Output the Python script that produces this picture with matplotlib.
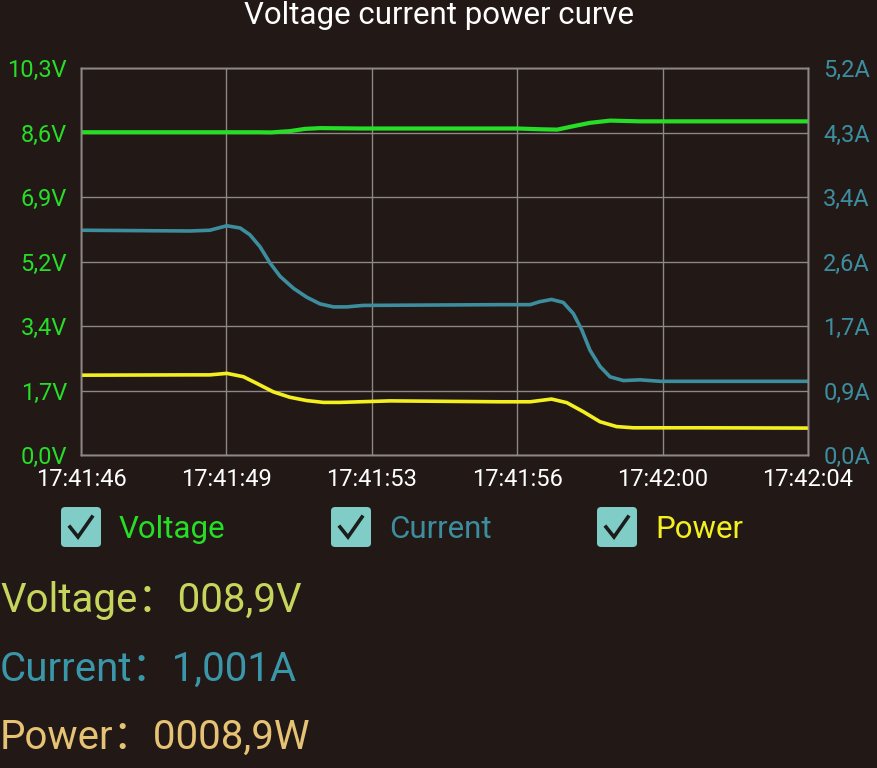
import matplotlib.pyplot as plt
from matplotlib.patches import FancyBboxPatch
from matplotlib.lines import Line2D

# seconds since 17:41:46
volt_t = [0, 2.0, 4.4, 4.7, 5.17, 5.55, 5.92, 6.9, 9.0, 10.8, 11.36, 11.79,
          12.23, 12.6, 13.1, 13.84, 16.0, 18]
volt_v = [8.59, 8.59, 8.59, 8.585, 8.62, 8.68, 8.70, 8.69, 8.69, 8.69, 8.67, 8.66,
          8.76, 8.84, 8.90, 8.88, 8.88, 8.88]

curr_t = [0, 2.70, 3.19, 3.61, 3.94, 4.18, 4.43, 4.68, 4.93, 5.26, 5.59, 5.92, 6.25,
          6.58, 6.99, 10.37, 11.12, 11.36, 11.65, 11.94, 12.19, 12.40, 12.60, 12.85,
          13.10, 13.43, 13.84, 14.34, 15.33, 18]
curr_a = [3.02, 3.01, 3.02, 3.08, 3.05, 2.96, 2.80, 2.58, 2.40, 2.24, 2.12, 2.03, 1.99,
          1.99, 2.01, 2.02, 2.02, 2.06, 2.09, 2.05, 1.90, 1.68, 1.41, 1.19,
          1.05, 1.00, 1.01, 0.99, 0.99, 0.99]

pow_t = [0, 2.70, 3.19, 3.61, 4.02, 4.35, 4.76, 5.17, 5.59, 6.00, 6.41, 7.65, 10.37,
         11.12, 11.65, 12.03, 12.44, 12.85, 13.26, 13.67, 15.33, 18]
pow_w = [26.4, 26.5, 26.5, 27.0, 25.9, 23.7, 20.9, 19.1, 18.0, 17.4, 17.4, 17.9, 17.6,
         17.6, 18.5, 17.3, 14.3, 11.0, 9.4, 9.0, 9.0, 8.9]

x_ticks = [0, 3.6, 7.2, 10.8, 14.4, 18]
x_labels = ['17:41:46', '17:41:49', '17:41:53', '17:41:56', '17:42:00', '17:42:04']
v_labels = ['0,0V', '1,7V', '3,4V', '5,2V', '6,9V', '8,6V', '10,3V']
a_labels = ['0,0A', '0,9A', '1,7A', '2,6A', '3,4A', '4,3A', '5,2A']
v_max = 10.3
a_max = 5.2
p_max = 128

bg = '#221816'
green = '#27de27'
teal = '#3c8e9f'
yellow = '#f4f01f'
grid_c = '#8c8886'
fonts = ['Roboto', 'Noto Sans CJK SC', 'DejaVu Sans']

plt.rcParams['font.family'] = fonts

fig = plt.figure(figsize=(8.77, 7.68), dpi=100, facecolor=bg)
ax = fig.add_axes([81/877, 1-455/768, 727/877, 387/768])
ax.set_facecolor(bg)
ax_a = ax.twinx()
ax_p = ax.twinx()

ax.set_xlim(0, 18)
ax.set_ylim(0, v_max)
ax_a.set_ylim(0, a_max)
ax_p.set_ylim(0, p_max)

v_ticks = [v_max * i / 6 for i in range(7)]
a_ticks = [a_max * i / 6 for i in range(7)]
ax.set_xticks(x_ticks)
ax.set_xticklabels(x_labels, color='white', fontsize=17)
ax.set_yticks(v_ticks)
ax.set_yticklabels(v_labels, color=green, fontsize=17)
ax_a.set_yticks(a_ticks)
ax_a.set_yticklabels(a_labels, color=teal, fontsize=17)
ax_p.set_yticks([])
ax.tick_params(length=0, pad=9)
ax.tick_params(axis='y', pad=10)
ax_a.tick_params(length=0, pad=11)
ax.grid(True, color=grid_c, lw=1)
for a in (ax, ax_a, ax_p):
    for s in a.spines.values():
        s.set_color(grid_c)
        s.set_linewidth(1)

ax.plot(volt_t, volt_v, color=green, lw=3, solid_capstyle='butt', zorder=5)
ax_a.plot(curr_t, curr_a, color=teal, lw=2.6, solid_capstyle='butt')
ax_p.plot(pow_t, pow_w, color=yellow, lw=2.6, solid_capstyle='butt')

fig.text(439/877, 1-15/768, 'Voltage current power curve', color='white',
         fontsize=22.5, ha='center', va='center')

# legend with checkboxes
legend = [('Voltage', green, 61), ('Current', teal, 331), ('Power', yellow, 597)]
for name, col, x0 in legend:
    box = FancyBboxPatch((x0/877, 1-547/768), 40/877, 40/768,
                         boxstyle='round,pad=0,rounding_size=0.005',
                         transform=fig.transFigure, facecolor='#7fcdc6', edgecolor='none')
    fig.patches.append(box)
    fig.lines.append(Line2D([(x0+9)/877, (x0+17)/877, (x0+31)/877],
                            [1-527/768, 1-537/768, 1-517/768],
                            transform=fig.transFigure, color='#1c1c1c', lw=2.6,
                            solid_joinstyle='miter'))
    fig.text((x0+58)/877, 1-529/768, name, color=col, fontsize=22.5, va='center', ha='left')

# readouts
fig.text(0, 1-601/768, 'Voltage：008,9V', color='#c6d65c', fontsize=29, va='center', ha='left')
fig.text(0, 1-669/768, 'Current：1,001A', color='#3a96a9', fontsize=29, va='center', ha='left')
fig.text(0, 1-737/768, 'Power：0008,9W', color='#e6c274', fontsize=29, va='center', ha='left')

fig.savefig('out.png', dpi=100, facecolor=bg)
